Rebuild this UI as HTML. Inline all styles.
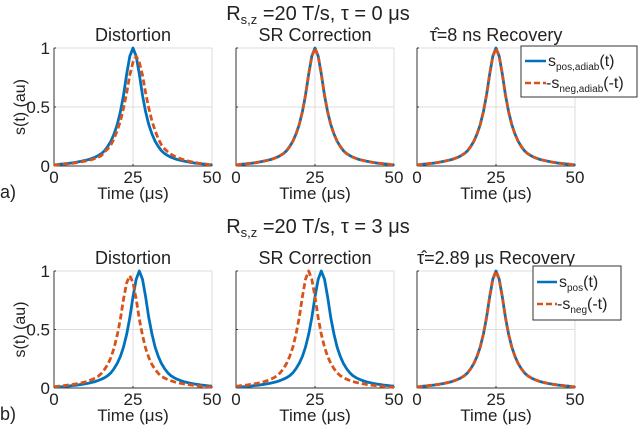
<!DOCTYPE html>
<html><head><meta charset="utf-8"><style>
body{margin:0;background:#fff;}
svg text{font-family:"Liberation Sans","DejaVu Sans",sans-serif;fill:#222;}
</style></head><body>
<svg id="fig" width="640" height="428" viewBox="0 0 640 428" xmlns="http://www.w3.org/2000/svg">
<text x="318" y="20" font-size="20" text-anchor="middle">R<tspan font-size="13" dy="4">s,z</tspan><tspan dy="-4"> =20 T/s, τ = 0 μs</tspan></text>
<text x="318" y="233" font-size="20" text-anchor="middle">R<tspan font-size="13" dy="4">s,z</tspan><tspan dy="-4"> =20 T/s, τ = 3 μs</tspan></text>
<text x="0" y="198" font-size="18">a)</text>
<text x="0" y="420" font-size="18">b)</text>
<g id="plots"></g>
<g>
<rect x="521" y="46" width="116" height="51" fill="#fff" stroke="#333" stroke-width="1"/>
<line x1="525" y1="61" x2="546" y2="61" stroke="#0072bd" stroke-width="2.5"/>
<text x="548" y="66" font-size="16">s<tspan font-size="10" dy="4">pos,adiab</tspan><tspan dy="-4">(t)</tspan></text>
<line x1="525" y1="83" x2="546" y2="83" stroke="#d95319" stroke-width="2.5" stroke-dasharray="6,3"/>
<text x="546" y="88" font-size="16">-s<tspan font-size="10" dy="4">neg,adiab</tspan><tspan dy="-4">(-t)</tspan></text>
</g>
<g>
<rect x="533" y="266" width="88" height="54" fill="#fff" stroke="#333" stroke-width="1"/>
<line x1="537" y1="282" x2="557" y2="282" stroke="#0072bd" stroke-width="2.5"/>
<text x="559" y="287" font-size="16">s<tspan font-size="10" dy="4">pos</tspan><tspan dy="-4">(t)</tspan></text>
<line x1="537" y1="304" x2="557" y2="304" stroke="#d95319" stroke-width="2.5" stroke-dasharray="6,3"/>
<text x="557" y="309" font-size="16">-s<tspan font-size="10" dy="4">neg</tspan><tspan dy="-4">(-t)</tspan></text>
</g>
</svg>
<script>
const times=[];for(let i=0;i<=50;i++)times.push(i);
const peak25=[.01,.012,.015,.018,.021,.024,.028,.032,.037,.042,.048,.055,.064,.075,.088,.105,.13,.165,.21,.27,.35,.46,.6,.78,.93,1,.93,.78,.6,.46,.35,.27,.21,.165,.13,.105,.088,.075,.064,.055,.048,.042,.037,.032,.028,.024,.021,.018,.015,.012,.01];
const a1Neg=[.008,.01,.012,.015,.018,.021,.024,.028,.032,.037,.042,.048,.055,.064,.075,.088,.12,.145,.18,.23,.3,.38,.49,.62,.77,.88,.93,.88,.77,.62,.49,.38,.3,.23,.18,.145,.12,.1,.085,.072,.062,.053,.045,.038,.032,.027,.022,.018,.015,.012,.01];
const peak27=[.008,.009,.01,.012,.015,.018,.021,.024,.028,.032,.037,.042,.048,.055,.064,.075,.088,.105,.13,.165,.21,.27,.35,.46,.6,.78,.93,1,.93,.78,.6,.46,.35,.27,.21,.165,.13,.105,.088,.075,.064,.055,.048,.042,.037,.032,.028,.024,.021,.018,.015];
const b1Neg=[.012,.014,.017,.02,.023,.027,.031,.035,.04,.046,.053,.062,.072,.085,.1,.125,.16,.2,.26,.34,.45,.59,.76,.9,.96,.9,.76,.59,.45,.34,.26,.2,.16,.125,.1,.085,.072,.062,.053,.046,.04,.035,.031,.027,.023,.02,.017,.014,.012,.01,.008];
const peak23=[.015,.018,.021,.024,.028,.032,.037,.042,.048,.055,.064,.075,.088,.105,.13,.165,.21,.27,.35,.46,.6,.78,.93,1,.93,.78,.6,.46,.35,.27,.21,.165,.13,.105,.088,.075,.064,.055,.048,.042,.037,.032,.028,.024,.021,.018,.015,.012,.01,.008,.006];
const xTicks=[0,25,50];
const yTicks=[0,0.5,1];
const yTickLabels=["0","0.5","1"];
const subtitles=["Distortion","SR Correction","τ̂=8 ns Recovery","Distortion","SR Correction","τ̂=2.89 μs Recovery"];
const panelSeries=[[peak25,a1Neg],[peak25,peak25],[peak25,peak25],[peak27,b1Neg],[peak27,peak23],[peak25,peak25]];
const lefts=[54,236,417], W=158;
const rows=[{top:48,bot:166},{top:271,bot:388}];
const NS="http://www.w3.org/2000/svg";
const g=document.getElementById('plots');
function mk(tag,at,parent){const e=document.createElementNS(NS,tag);for(const k in at)e.setAttribute(k,at[k]);(parent||g).appendChild(e);return e;}
for(let p=0;p<6;p++){
  const r=rows[Math.floor(p/3)], L=lefts[p%3];
  const sx=t=>L+t/50*W, sy=v=>r.bot-v*(r.bot-r.top);
  const pg=mk('g',{});
  
  
  mk('rect',{x:L,y:r.top,width:W,height:r.bot-r.top,fill:'none',stroke:'#ddd'},pg);
  mk('line',{x1:L,x2:L+W,y1:sy(0.5),y2:sy(0.5),stroke:'#ddd'},pg);
  mk('line',{x1:sx(25),x2:sx(25),y1:r.top,y2:r.bot,stroke:'#ddd'},pg);
  mk('line',{x1:L,x2:L+W,y1:r.bot,y2:r.bot,stroke:'#333'},pg);
  mk('line',{x1:L,x2:L,y1:r.top,y2:r.bot,stroke:'#333'},pg);
  xTicks.forEach(t=>{
    mk('line',{x1:sx(t),x2:sx(t),y1:r.bot,y2:r.bot-2,stroke:'#333'},pg);
    const tx=mk('text',{x:sx(t),y:r.bot+17,'font-size':17,'text-anchor':'middle'},pg);tx.textContent=t;
    
    
  });
  yTicks.forEach((v,i)=>{
    mk('line',{x1:L,x2:L+2,y1:sy(v),y2:sy(v),stroke:'#333'},pg);
    if(p%3===0){const ty=mk('text',{x:L-4,y:sy(v)+6,'font-size':17,'text-anchor':'end'},pg);ty.textContent=yTickLabels[i];
    
    }
  });
  const xl=mk('text',{x:L+W/2,y:r.bot+33,'font-size':17,'text-anchor':'middle'},pg);xl.textContent='Time (μs)';
  
  
  const st=mk('text',{x:L+W/2,y:r.top-7,'font-size':18,'text-anchor':'middle'},pg);st.textContent=subtitles[p];
  
  
  if(p%3===0){const yl=mk('text',{x:0,y:0,'font-size':16,'text-anchor':'middle',transform:`translate(${L-29},${(r.top+r.bot)/2}) rotate(-90)`},pg);yl.textContent='s(t) (au)';
  
  }
  const cols=['#0072bd','#d95319'];
  panelSeries[p].forEach((s,k)=>{
    const d=s.map((v,i)=>(i?'L':'M')+sx(times[i]).toFixed(1)+','+sy(v).toFixed(1)).join('');
    const at={d:d,fill:'none',stroke:cols[k],'stroke-width':2.8,'stroke-linejoin':'round'};
    if(k===1)at['stroke-dasharray']='6,3';
    const path=mk('path',at,pg);
    
    
  });
}
</script>
</body></html>
